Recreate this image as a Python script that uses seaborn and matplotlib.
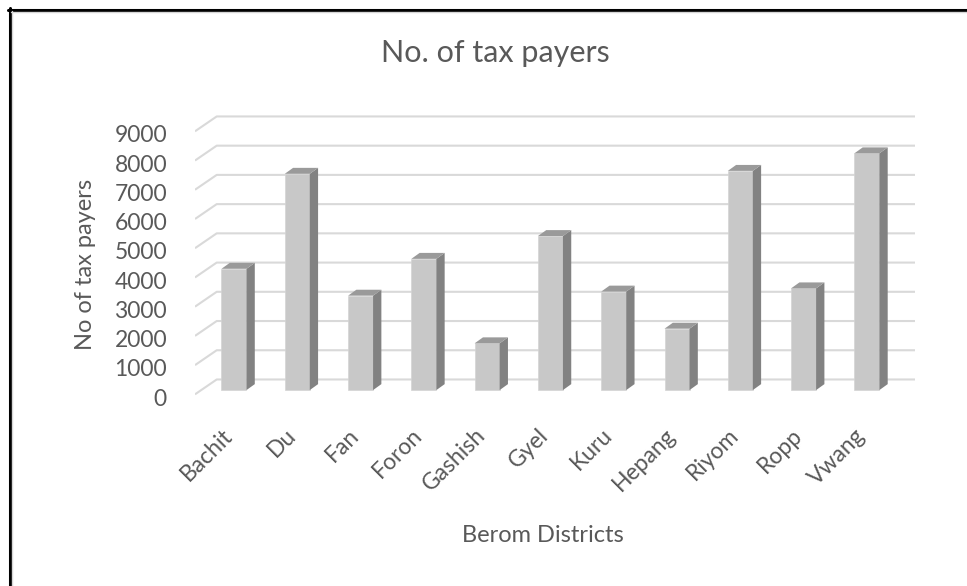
# ================= Modules ================= #
import matplotlib
matplotlib.use("Agg")
import pandas as pd
import matplotlib.pyplot as plt
import seaborn as sns
from matplotlib.patches import Polygon
from matplotlib.lines import Line2D
from matplotlib.transforms import ScaledTranslation

# ================= Data ================= #
districts = ['Bachit', 'Du', 'Fan', 'Foron', 'Gashish', 'Gyel', 'Kuru',
             'Hepang', 'Riyom', 'Ropp', 'Vwang']
taxPayers = [4150, 7400, 3230, 4490, 1600, 5270, 3370, 2100, 7500, 3480, 8100]
yTicks = list(range(0, 10000, 1000))

# ================= Parameters ================= #
W, H, DPI = 967, 586, 100
txtCol = '#595959'
frontCol = '#C8C8C8'
sideCol = '#828282'
topCol = '#9A9A9A'
gridCol = '#D9D9D9'
# axes box in pixels (left, right, bottom, top)
axL, axR, axB, axT = 195, 915, 397, 110
xlim = (-0.616, 10.76)
ylim = (-146, 9583)
pxCat = (axR - axL) / (xlim[1] - xlim[0])
pxVal = (axB - axT) / (ylim[1] - ylim[0])

sns.set_theme(style='white')
plt.rcParams['font.family'] = ['Lato', 'DejaVu Sans']

# ================= Plot ================= #
fig = plt.figure(figsize=(W / DPI, H / DPI), dpi=DPI)
ax = fig.add_axes([axL / W, (H - axB) / H, (axR - axL) / W, (axB - axT) / H])
df = pd.DataFrame({'district': districts, 'payers': taxPayers})
sns.barplot(data=df, x='district', y='payers', color=frontCol, width=0.395,
            saturation=1, edgecolor='#D4D4D4', linewidth=0.5, ax=ax, zorder=3)
ax.set_xlim(*xlim)
ax.set_ylim(*ylim)

# fake 3D depth for the bars
dxb, dyb = 8.3 / pxCat, 6 / pxVal
for p in ax.patches:
    x0, w, h = p.get_x(), p.get_width(), p.get_height()
    x1 = x0 + w
    ax.add_patch(Polygon([(x1, 0), (x1 + dxb, dyb), (x1 + dxb, h + dyb), (x1, h)],
                         closed=True, fc=sideCol, ec='none', zorder=3))
    ax.add_patch(Polygon([(x0, h), (x0 + dxb, h + dyb), (x1 + dxb, h + dyb), (x1, h)],
                         closed=True, fc=topCol, ec='none', zorder=3))

# back wall gridlines with side wall diagonals
dxw, dyw = 21.7 / pxCat, 15 / pxVal
for v in yTicks:
    yf = v + ylim[0]
    ax.plot([xlim[0], xlim[0] + dxw, xlim[1]], [yf, yf + dyw, yf + dyw],
            color=gridCol, lw=1.5, zorder=1, solid_capstyle='butt')

for s in ax.spines.values():
    s.set_visible(False)
ax.tick_params(length=0)
ax.set_yticks([v - 237 for v in yTicks], labels=[str(v) for v in yTicks])
ax.tick_params(axis='y', pad=28 * 72 / DPI, labelsize=16.5, labelcolor=txtCol)
ax.set_xticks(range(len(districts)), labels=districts)
ax.tick_params(axis='x', pad=35 * 72 / DPI, labelsize=16.5, labelcolor=txtCol)
offset = ScaledTranslation(-5 / DPI, 0, fig.dpi_scale_trans)
for lab in ax.get_xticklabels():
    lab.set_rotation(45)
    lab.set_ha('right')
    lab.set_va('center')
    lab.set_rotation_mode('anchor')
    lab.set_transform(lab.get_transform() + offset)
ax.set_xlabel('')
ax.set_ylabel('')

# titles
fig.text(495 / W, 1 - 53 / H, 'No. of tax payers', ha='center', va='center',
         fontsize=22, color=txtCol)
fig.text(85 / W, 1 - 264 / H, 'No of tax payers', ha='center', va='center',
         rotation=90, fontsize=17, color=txtCol)
fig.text(543 / W, 1 - 535 / H, 'Berom Districts', ha='center', va='center',
         fontsize=17, color=txtCol)

# chart border (left and top only visible)
fig.add_artist(Line2D([9.5 / W, 9.5 / W], [0, 1 - 8 / H], color='black', lw=2.2,
                      transform=fig.transFigure))
fig.add_artist(Line2D([8 / W, 1], [1 - 9.5 / H, 1 - 9.5 / H], color='black', lw=2.2,
                      transform=fig.transFigure))
fig.add_artist(Line2D([11.8 / W, 11.8 / W], [0, 1 - 11 / H], color='#D6D6D6', lw=1,
                      transform=fig.transFigure))
fig.add_artist(Line2D([11 / W, 1], [1 - 11.8 / H, 1 - 11.8 / H], color='#D6D6D6', lw=1,
                      transform=fig.transFigure))

fig.savefig('out.png', dpi=DPI)
